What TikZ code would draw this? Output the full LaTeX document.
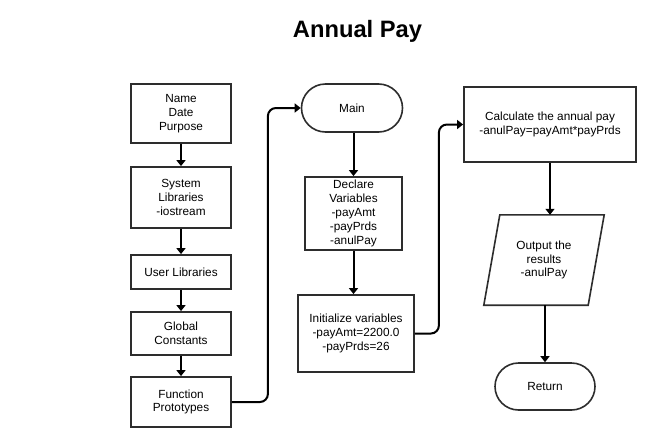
\documentclass[tikz,border=0pt]{standalone}
\usepackage{fontspec}
\setmainfont{Liberation Sans}
\usetikzlibrary{arrows.meta,shapes.misc}
\definecolor{boxc}{RGB}{45,45,45}
\begin{document}
\begin{tikzpicture}[x=1pt,y=-1pt,
  txt/.style={align=center, inner sep=0pt, font=\fontsize{11.8}{13.8}\selectfont, text=black},
  box/.style={txt, draw=boxc, line width=1.8pt, rectangle},
  term/.style={txt, draw=boxc, line width=1.6pt, rounded rectangle},
  arr/.style={draw=black, line width=2pt, -{Triangle[length=6pt,width=9pt]}},
  elbow/.style={arr, rounded corners=8pt}
]
\useasboundingbox[fill=white] (0,0) rectangle (658,447);
\node[font=\fontsize{23.7}{28}\selectfont\bfseries, anchor=base] (title) at (357.5,37) {Annual Pay};

% left column
\node[box, minimum width=100pt, minimum height=59pt] (name) at (181,113.5) {Name\\Date\\Purpose};
\node[box, minimum width=100pt, minimum height=61pt] (sys) at (181,197.5) {System\\Libraries\\-iostream};
\node[box, minimum width=100pt, minimum height=34pt] (user) at (181,272) {User Libraries};
\node[box, minimum width=100pt, minimum height=43pt] (glob) at (181,333.5) {Global\\Constants};
\node[box, minimum width=100pt, minimum height=50pt] (func) at (181,402) {Function\\Prototypes};

% middle column
\node[term, minimum width=101pt, minimum height=48pt] (main) at (352,108) {Main};
\node[box, minimum width=97pt, minimum height=73pt] (decl) at (353.5,213.5) {Declare\\Variables\\-payAmt\\-payPrds\\-anulPay};
\node[box, minimum width=116pt, minimum height=77pt] (init) at (356,333.5) {Initialize variables\\-payAmt=2200.0\\-payPrds=26};

% right column
\node[box, minimum width=172pt, minimum height=75pt] (calc) at (550,124.5) {Calculate the annual pay\\-anulPay=payAmt*payPrds};
\node[txt, minimum width=104pt, minimum height=90pt] (out) at (544,260) {Output the\\results\\-anulPay};
\draw[draw=boxc, line width=1.6pt, line join=miter]
  ([xshift=8pt]out.north west) -- ([xshift=8pt]out.north east) --
  ([xshift=-8pt]out.south east) -- ([xshift=-8pt]out.south west) -- cycle;
\node[term, minimum width=100pt, minimum height=47pt] (ret) at (545,386.5) {Return};

% connectors
\draw[arr] (name) -- (sys);
\draw[arr] (sys) -- (user);
\draw[arr] (user) -- (glob);
\draw[arr] (glob) -- (func);
\draw[elbow] (func.east) -- ++(36,0) |- (main.west);
\draw[arr] (decl.north |- main.south) -- (decl.north);
\draw[arr] (decl.south) -- (decl.south |- init.north);
\draw[elbow] (init.east) -- ++(24,0) |- (calc.west);
\draw[arr] (calc.south) -- (calc.south |- out.north);
\draw[arr] (ret.north |- out.south) -- (ret.north);
\end{tikzpicture}
\end{document}
